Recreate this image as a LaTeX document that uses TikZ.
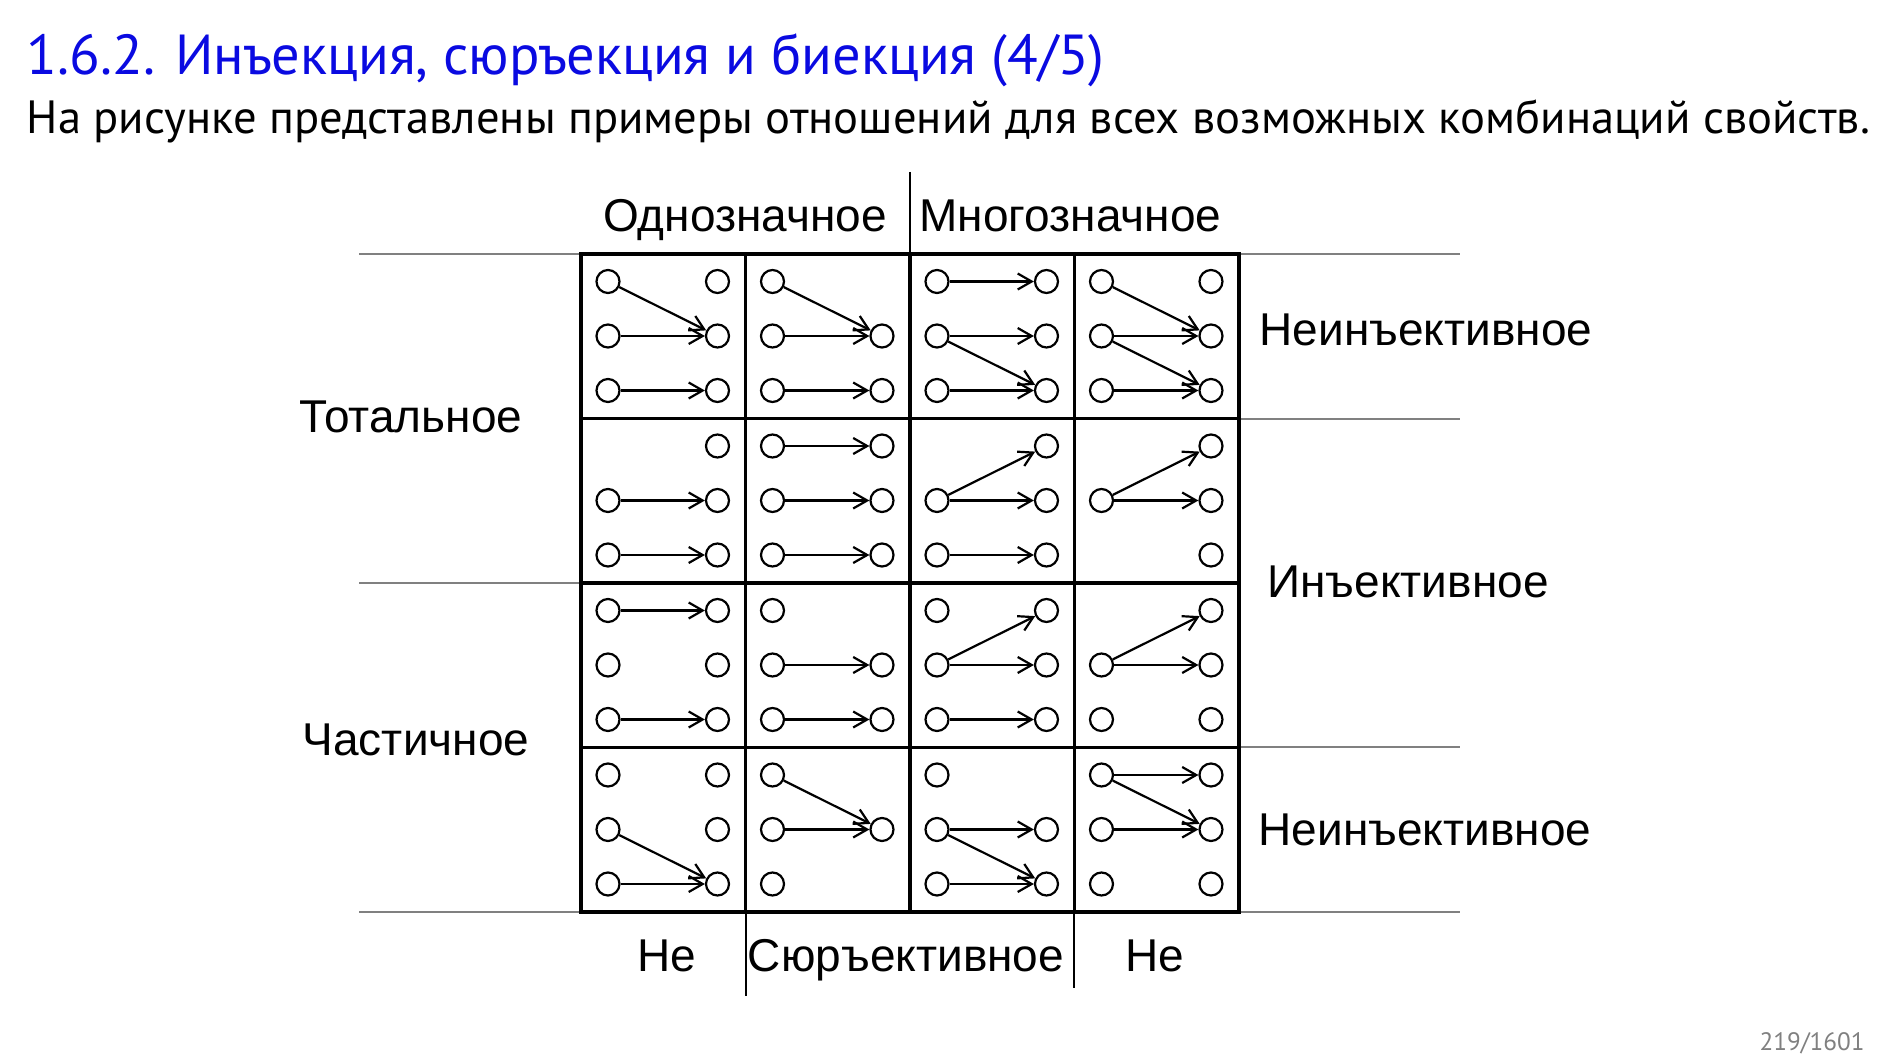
\documentclass[tikz,border=0pt]{standalone}
\usepackage{fontspec}
\setmainfont{PT Sans}
\newfontfamily\arialfont{Liberation Sans}
\usetikzlibrary{arrows.meta}
\definecolor{titleblue}{RGB}{10,10,225}
\definecolor{rulegray}{RGB}{128,128,128}

\begin{document}
\begin{tikzpicture}[
    x=0.5pt, y=-0.5pt,
    dot/.style={circle, draw, line width=1.1pt, minimum size=11.5pt, inner sep=0pt},
    arr/.style={line width=1.1pt, -{Straight Barb[length=7pt,width=8pt,line width=1.1pt]}},
    cellbox/.style={line width=1.7pt},
    divider/.style={draw=rulegray, line width=0.9pt},
    lbl/.style={font=\arialfont\fontsize{23}{27}\selectfont, anchor=base, inner sep=0pt}
]
    \useasboundingbox (0,0) rectangle (1890,1063);

    \node[anchor=base west, inner sep=0pt, text=titleblue, font=\fontsize{28.2}{32}\selectfont] (title) at (26.5,74.7) {1.6.2. Инъекция, сюръекция и биекция (4/5)};
    \node[anchor=base west, inner sep=0pt, font=\fontsize{23.3}{27}\selectfont] (subtitle) at (26.5,134) {На рисунке представлены примеры отношений для всех возможных комбинаций свойств.};
    \node[anchor=base east, inner sep=0pt, text=rulegray, font=\fontsize{12.6}{14}\selectfont] (page) at (1865,1050) {219/1601};

    \foreach \y in {254,583,912} \draw[divider] (359,\y) -- (581,\y);
    \foreach \y in {254,419,747,912} \draw[divider] (1239,\y) -- (1460,\y);
    \draw[line width=0.6pt] (910,172) -- (910,254);
    \draw[line width=0.6pt] (746,912) -- (746,996);
    \draw[line width=0.6pt] (1074,912) -- (1074,988);

    \foreach \row/\col/\pts/\arrs in {
        1/1/{0/1,0/2,0/3,1/1,1/2,1/3}/{01/12,02/12,03/13},
        1/2/{0/1,0/2,0/3,1/2,1/3}/{01/12,02/12,03/13},
        1/3/{0/1,0/2,0/3,1/1,1/2,1/3}/{01/11,02/12,02/13,03/13},
        1/4/{0/1,0/2,0/3,1/1,1/2,1/3}/{01/12,02/12,02/13,03/13},
        2/1/{0/2,0/3,1/1,1/2,1/3}/{02/12,03/13},
        2/2/{0/1,0/2,0/3,1/1,1/2,1/3}/{01/11,02/12,03/13},
        2/3/{0/2,0/3,1/1,1/2,1/3}/{02/11,02/12,03/13},
        2/4/{0/2,1/1,1/2,1/3}/{02/11,02/12},
        3/1/{0/1,0/2,0/3,1/1,1/2,1/3}/{01/11,03/13},
        3/2/{0/1,0/2,0/3,1/2,1/3}/{02/12,03/13},
        3/3/{0/1,0/2,0/3,1/1,1/2,1/3}/{02/11,02/12,03/13},
        3/4/{0/2,0/3,1/1,1/2,1/3}/{02/11,02/12},
        4/1/{0/1,0/2,0/3,1/1,1/2,1/3}/{02/13,03/13},
        4/2/{0/1,0/2,0/3,1/2}/{01/12,02/12},
        4/3/{0/1,0/2,0/3,1/2,1/3}/{02/12,02/13,03/13},
        4/4/{0/1,0/2,0/3,1/1,1/2,1/3}/{01/11,01/12,02/12}%
    }{
        \pgfmathsetmacro\cx{581+(\col-1)*164.5}
        \pgfmathsetmacro\cy{254+(\row-1)*164.5}
        \draw[cellbox] (\cx,\cy) rectangle ++(164.5,164.5);
        \foreach \i/\j in \pts
            \node[dot] (c\row\col-\i\j) at ({\cx+27+\i*109.5},{\cy+27.5+(\j-1)*54.5}) {};
        \foreach \a/\b in \arrs
            \draw[arr] (c\row\col-\a) -- (c\row\col-\b);
    }

    \node[lbl] (single) at (745,231.5) {Однозначное};
    \node[lbl] (multi) at (1070.5,231.5) {Многозначное};
    \node[lbl] (total) at (411,433) {Тотальное};
    \node[lbl] (partial) at (416,755) {Частичное};
    \node[lbl] (noninjtop) at (1426,346) {Неинъективное};
    \node[lbl] (inj) at (1408,598) {Инъективное};
    \node[lbl] (noninjbot) at (1425,845) {Неинъективное};
    \node[lbl] (nonsurleft) at (667,971.5) {Не};
    \node[lbl] (sur) at (906,971.5) {Сюръективное};
    \node[lbl] (nonsurright) at (1155,971.5) {Не};
\end{tikzpicture}
\end{document}
